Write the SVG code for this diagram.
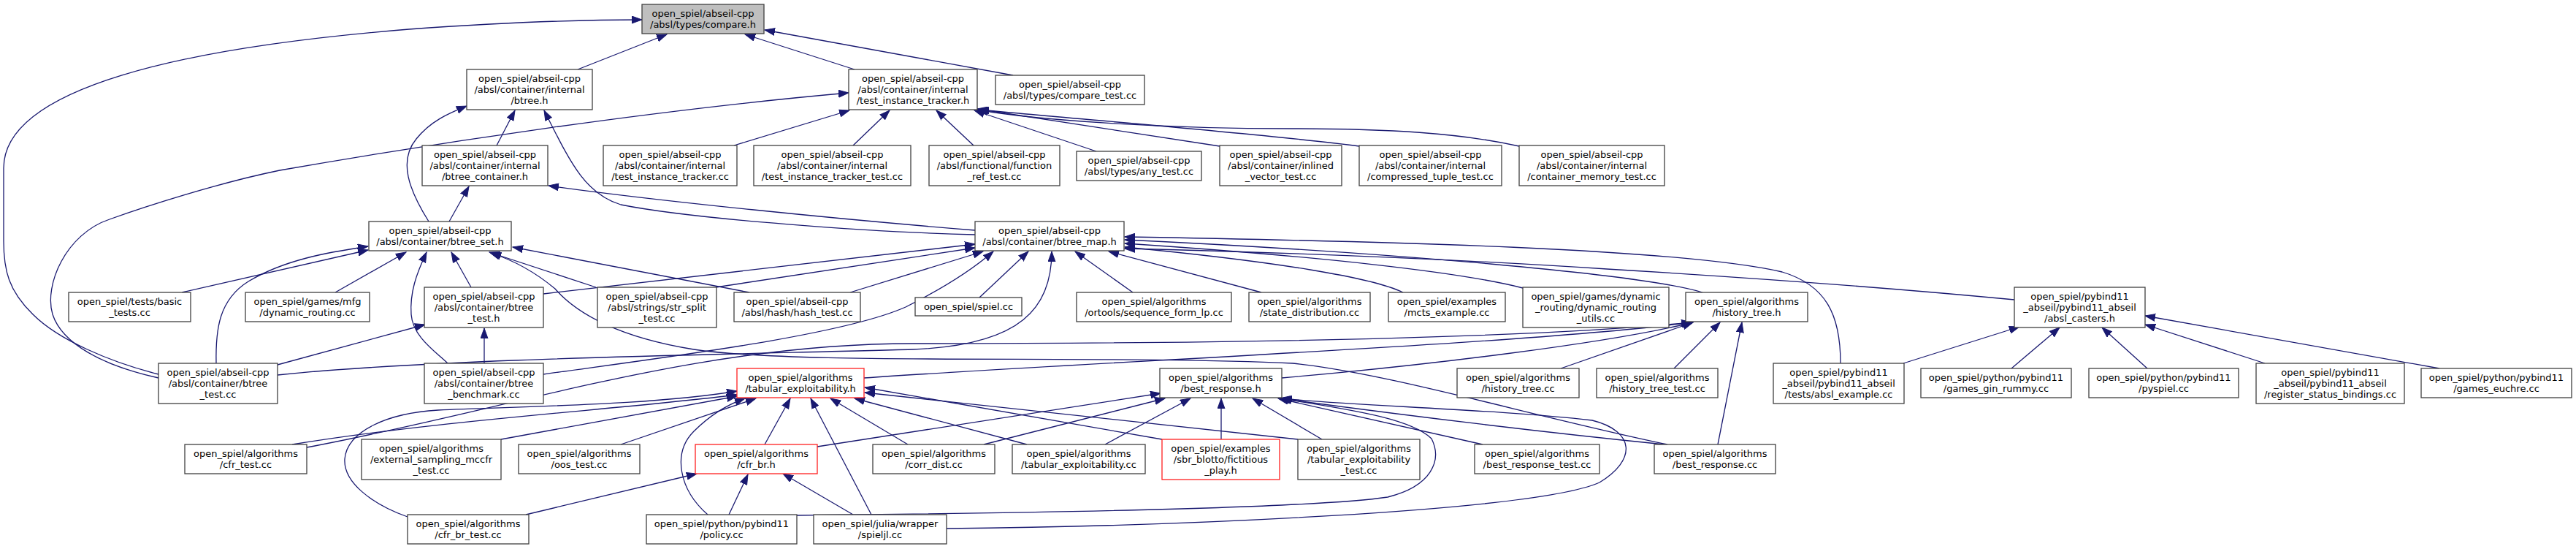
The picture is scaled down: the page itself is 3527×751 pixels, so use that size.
<svg xmlns="http://www.w3.org/2000/svg" width="3527" height="751" viewBox="0 0 3527 751">
<style>
.n rect{fill:#fff;stroke:#404040;stroke-width:1.3}
.root rect{fill:#bfbfbf}
.red rect{stroke:#ff2020}
text{font-family:"DejaVu Sans","Liberation Sans",sans-serif;font-size:13px;fill:#000;text-anchor:middle}
#edges path{fill:none;stroke:#191970;stroke-width:1.3;marker-end:url(#a)}
</style>
<defs>
<marker id="a" markerUnits="userSpaceOnUse" markerWidth="15" markerHeight="11" refX="14" refY="5.5" orient="auto" viewBox="0 0 15 11"><path d="M0,0.5 L14,5.5 L0,10.5 z" fill="#191970" stroke="#191970" stroke-width="1"/></marker>
</defs>
<rect width="3527" height="751" fill="#fff"/>
<g id="edges">
<path d="M791,95 L913,47"/>
<path d="M1170,95 L1020,47"/>
<path d="M1387,103 L1047,41"/>
<path d="M217,512 C150,495 80,465 45,430 C12,398 5,370 5,330 L5,230 C5,120 250,65 560,40 C700,30 800,27 879,27"/>
<path d="M680,199 L705,151"/>
<path d="M587,303 C560,260 545,220 570,190 C590,165 615,155 639,145"/>
<path d="M1335,321 C1200,318 950,300 850,280 C800,265 780,220 745,151"/>
<path d="M1005,199 L1163,151"/>
<path d="M1168,199 L1218,151"/>
<path d="M1333,199 L1282,151"/>
<path d="M1501,207 L1334,151"/>
<path d="M1670,200 L1338,149"/>
<path d="M1861,200 C1750,185 1500,165 1340,150"/>
<path d="M2080,200 C2000,182 1900,176 1770,176 C1600,176 1420,165 1338,150"/>
<path d="M217,517 C140,500 85,470 72,430 C60,390 90,320 150,300 C200,282 300,250 383,233 C600,195 900,150 1162,127"/>
<path d="M615,303 L642,255"/>
<path d="M1335,315 C1150,300 900,275 751,254"/>
<path d="M249,400 L504,342"/>
<path d="M296,497 C295,450 300,410 340,385 C390,355 450,345 504,337"/>
<path d="M459,400 L556,345"/>
<path d="M645,393 L618,345"/>
<path d="M613,497 C595,480 565,460 563,430 C561,400 570,375 584,345"/>
<path d="M816,393 L670,345"/>
<path d="M1026,400 L702,338"/>
<path d="M2283,608 C2100,570 1900,510 1770,497 C1500,485 1100,500 950,478 C850,462 790,430 760,395 C730,370 700,355 672,346"/>
<path d="M744,402 L1335,334"/>
<path d="M980,393 L1335,339"/>
<path d="M1164,400 L1346,344"/>
<path d="M380,513 C600,490 1000,485 1250,478 C1400,472 1440,420 1440,344"/>
<path d="M744,512 C900,490 1150,460 1240,420 C1290,395 1330,370 1360,344"/>
<path d="M1341,407 L1408,344"/>
<path d="M1551,400 L1472,344"/>
<path d="M1727,400 L1518,344"/>
<path d="M1921,400 C1880,380 1750,358 1540,338"/>
<path d="M2085,394 C2000,372 1800,350 1540,333"/>
<path d="M2331,400 C2250,375 1900,345 1540,328"/>
<path d="M2520,497 C2520,430 2500,390 2440,372 C2300,340 1900,330 1540,324"/>
<path d="M2758,410 C2600,395 2400,380 2200,368 C2000,355 1750,345 1540,340"/>
<path d="M380,499 L582,444"/>
<path d="M663,497 L663,449"/>
<path d="M2137,504 L2318,441"/>
<path d="M2292,504 L2355,441"/>
<path d="M2352,608 L2385,441"/>
<path d="M1755,517 C1950,500 2200,470 2318,441"/>
<path d="M1183,517 C1500,495 2100,470 2316,441"/>
<path d="M420,612 C700,560 950,470 1250,470 C1700,470 2100,462 2316,441"/>
<path d="M2606,497 L2765,447"/>
<path d="M2754,504 L2820,448"/>
<path d="M2940,504 L2878,448"/>
<path d="M3101,497 L2937,444"/>
<path d="M3340,504 L2937,432"/>
<path d="M400,608 C600,575 850,560 1009,540"/>
<path d="M558,707 C510,690 470,660 472,628 C475,590 530,565 600,561 C750,555 900,553 1009,535"/>
<path d="M686,601 L1009,542"/>
<path d="M850,608 L1035,545"/>
<path d="M1047,608 L1082,545"/>
<path d="M969,704 C930,670 920,620 950,590 C975,565 1000,552 1020,545"/>
<path d="M1193,704 L1110,545"/>
<path d="M1243,608 L1137,545"/>
<path d="M1406,608 L1170,545"/>
<path d="M1591,601 L1184,530"/>
<path d="M1777,601 L1184,537"/>
<path d="M1119,611 L1589,538"/>
<path d="M1347,608 L1595,545"/>
<path d="M1513,608 L1630,545"/>
<path d="M1672,601 L1672,545"/>
<path d="M1810,601 L1715,545"/>
<path d="M2030,608 L1750,545"/>
<path d="M2279,608 C2100,590 1900,565 1752,545"/>
<path d="M1090,705 C1400,702 1800,695 1900,680 C1960,665 1975,630 1960,600 C1930,570 1830,558 1754,545"/>
<path d="M1296,723 C1600,720 2100,700 2190,660 C2240,630 2240,590 2180,575 C2050,560 1850,555 1755,545"/>
<path d="M720,704 L954,648"/>
<path d="M998,704 L1024,649"/>
<path d="M1168,704 L1072,648"/>
</g>
<g id="n_compare_h" class="n root"><rect x="879" y="6" width="167" height="40"/><text x="962.5" y="23">open_spiel/abseil-cpp</text><text x="962.5" y="38">/absl/types/compare.h</text></g>
<g id="n_btree_h" class="n"><rect x="639" y="95" width="172" height="55"/><text x="725" y="112">open_spiel/abseil-cpp</text><text x="725" y="127">/absl/container/internal</text><text x="725" y="142">/btree.h</text></g>
<g id="n_tit_h" class="n"><rect x="1162" y="95" width="176" height="55"/><text x="1250" y="112">open_spiel/abseil-cpp</text><text x="1250" y="127">/absl/container/internal</text><text x="1250" y="142">/test_instance_tracker.h</text></g>
<g id="n_compare_test" class="n"><rect x="1363" y="103" width="204" height="40"/><text x="1465" y="120">open_spiel/abseil-cpp</text><text x="1465" y="135">/absl/types/compare_test.cc</text></g>
<g id="n_btree_container" class="n"><rect x="578" y="199" width="172" height="55"/><text x="664" y="216">open_spiel/abseil-cpp</text><text x="664" y="231">/absl/container/internal</text><text x="664" y="246">/btree_container.h</text></g>
<g id="n_tit_cc" class="n"><rect x="826" y="199" width="183" height="55"/><text x="917.5" y="216">open_spiel/abseil-cpp</text><text x="917.5" y="231">/absl/container/internal</text><text x="917.5" y="246">/test_instance_tracker.cc</text></g>
<g id="n_tit_test" class="n"><rect x="1032" y="199" width="215" height="55"/><text x="1139.5" y="216">open_spiel/abseil-cpp</text><text x="1139.5" y="231">/absl/container/internal</text><text x="1139.5" y="246">/test_instance_tracker_test.cc</text></g>
<g id="n_function_ref" class="n"><rect x="1272" y="199" width="179" height="55"/><text x="1361.5" y="216">open_spiel/abseil-cpp</text><text x="1361.5" y="231">/absl/functional/function</text><text x="1361.5" y="246">_ref_test.cc</text></g>
<g id="n_any_test" class="n"><rect x="1474" y="207" width="171" height="40"/><text x="1559.5" y="224">open_spiel/abseil-cpp</text><text x="1559.5" y="239">/absl/types/any_test.cc</text></g>
<g id="n_inlined" class="n"><rect x="1670" y="199" width="167" height="55"/><text x="1753.5" y="216">open_spiel/abseil-cpp</text><text x="1753.5" y="231">/absl/container/inlined</text><text x="1753.5" y="246">_vector_test.cc</text></g>
<g id="n_compressed" class="n"><rect x="1861" y="199" width="195" height="55"/><text x="1958.5" y="216">open_spiel/abseil-cpp</text><text x="1958.5" y="231">/absl/container/internal</text><text x="1958.5" y="246">/compressed_tuple_test.cc</text></g>
<g id="n_container_memory" class="n"><rect x="2080" y="199" width="199" height="55"/><text x="2179.5" y="216">open_spiel/abseil-cpp</text><text x="2179.5" y="231">/absl/container/internal</text><text x="2179.5" y="246">/container_memory_test.cc</text></g>
<g id="n_btree_set" class="n"><rect x="505" y="303" width="195" height="40"/><text x="602.5" y="320">open_spiel/abseil-cpp</text><text x="602.5" y="335">/absl/container/btree_set.h</text></g>
<g id="n_btree_map" class="n"><rect x="1335" y="303" width="204" height="40"/><text x="1437" y="320">open_spiel/abseil-cpp</text><text x="1437" y="335">/absl/container/btree_map.h</text></g>
<g id="n_basic_tests" class="n"><rect x="94" y="400" width="167" height="40"/><text x="177.5" y="417">open_spiel/tests/basic</text><text x="177.5" y="432">_tests.cc</text></g>
<g id="n_mfg_dr" class="n"><rect x="336" y="400" width="170" height="40"/><text x="421" y="417">open_spiel/games/mfg</text><text x="421" y="432">/dynamic_routing.cc</text></g>
<g id="n_btree_test_h" class="n"><rect x="581" y="393" width="163" height="55"/><text x="662.5" y="410">open_spiel/abseil-cpp</text><text x="662.5" y="425">/absl/container/btree</text><text x="662.5" y="440">_test.h</text></g>
<g id="n_str_split" class="n"><rect x="818" y="393" width="163" height="55"/><text x="899.5" y="410">open_spiel/abseil-cpp</text><text x="899.5" y="425">/absl/strings/str_split</text><text x="899.5" y="440">_test.cc</text></g>
<g id="n_hash_test" class="n"><rect x="1005" y="400" width="173" height="40"/><text x="1091.5" y="417">open_spiel/abseil-cpp</text><text x="1091.5" y="432">/absl/hash/hash_test.cc</text></g>
<g id="n_spiel_cc" class="n"><rect x="1253" y="407" width="146" height="25"/><text x="1326" y="424">open_spiel/spiel.cc</text></g>
<g id="n_seq_form" class="n"><rect x="1474" y="400" width="212" height="40"/><text x="1580" y="417">open_spiel/algorithms</text><text x="1580" y="432">/ortools/sequence_form_lp.cc</text></g>
<g id="n_state_dist" class="n"><rect x="1710" y="400" width="166" height="40"/><text x="1793" y="417">open_spiel/algorithms</text><text x="1793" y="432">/state_distribution.cc</text></g>
<g id="n_mcts" class="n"><rect x="1901" y="400" width="160" height="40"/><text x="1981" y="417">open_spiel/examples</text><text x="1981" y="432">/mcts_example.cc</text></g>
<g id="n_dr_utils" class="n"><rect x="2085" y="393" width="200" height="55"/><text x="2185" y="410">open_spiel/games/dynamic</text><text x="2185" y="425">_routing/dynamic_routing</text><text x="2185" y="440">_utils.cc</text></g>
<g id="n_history_tree_h" class="n"><rect x="2308" y="400" width="167" height="40"/><text x="2391.5" y="417">open_spiel/algorithms</text><text x="2391.5" y="432">/history_tree.h</text></g>
<g id="n_absl_casters" class="n"><rect x="2758" y="393" width="179" height="55"/><text x="2847.5" y="410">open_spiel/pybind11</text><text x="2847.5" y="425">_abseil/pybind11_abseil</text><text x="2847.5" y="440">/absl_casters.h</text></g>
<g id="n_btree_test_cc" class="n"><rect x="217" y="497" width="163" height="55"/><text x="298.5" y="514">open_spiel/abseil-cpp</text><text x="298.5" y="529">/absl/container/btree</text><text x="298.5" y="544">_test.cc</text></g>
<g id="n_btree_bench" class="n"><rect x="581" y="497" width="163" height="55"/><text x="662.5" y="514">open_spiel/abseil-cpp</text><text x="662.5" y="529">/absl/container/btree</text><text x="662.5" y="544">_benchmark.cc</text></g>
<g id="n_tab_expl_h" class="n red"><rect x="1009" y="504" width="174" height="40"/><text x="1096" y="521">open_spiel/algorithms</text><text x="1096" y="536">/tabular_exploitability.h</text></g>
<g id="n_best_response_h" class="n"><rect x="1588" y="504" width="167" height="40"/><text x="1671.5" y="521">open_spiel/algorithms</text><text x="1671.5" y="536">/best_response.h</text></g>
<g id="n_history_tree_cc" class="n"><rect x="1995" y="504" width="167" height="40"/><text x="2078.5" y="521">open_spiel/algorithms</text><text x="2078.5" y="536">/history_tree.cc</text></g>
<g id="n_history_tree_test" class="n"><rect x="2186" y="504" width="166" height="40"/><text x="2269" y="521">open_spiel/algorithms</text><text x="2269" y="536">/history_tree_test.cc</text></g>
<g id="n_absl_example" class="n"><rect x="2428" y="497" width="179" height="55"/><text x="2517.5" y="514">open_spiel/pybind11</text><text x="2517.5" y="529">_abseil/pybind11_abseil</text><text x="2517.5" y="544">/tests/absl_example.cc</text></g>
<g id="n_gin_rummy" class="n"><rect x="2630" y="504" width="206" height="40"/><text x="2733" y="521">open_spiel/python/pybind11</text><text x="2733" y="536">/games_gin_rummy.cc</text></g>
<g id="n_pyspiel" class="n"><rect x="2860" y="504" width="205" height="40"/><text x="2962.5" y="521">open_spiel/python/pybind11</text><text x="2962.5" y="536">/pyspiel.cc</text></g>
<g id="n_register_status" class="n"><rect x="3089" y="497" width="203" height="55"/><text x="3190.5" y="514">open_spiel/pybind11</text><text x="3190.5" y="529">_abseil/pybind11_abseil</text><text x="3190.5" y="544">/register_status_bindings.cc</text></g>
<g id="n_euchre" class="n"><rect x="3315" y="504" width="206" height="40"/><text x="3418" y="521">open_spiel/python/pybind11</text><text x="3418" y="536">/games_euchre.cc</text></g>
<g id="n_cfr_test" class="n"><rect x="253" y="608" width="167" height="40"/><text x="336.5" y="625">open_spiel/algorithms</text><text x="336.5" y="640">/cfr_test.cc</text></g>
<g id="n_ext_sampling" class="n"><rect x="495" y="601" width="191" height="55"/><text x="590.5" y="618">open_spiel/algorithms</text><text x="590.5" y="633">/external_sampling_mccfr</text><text x="590.5" y="648">_test.cc</text></g>
<g id="n_oos_test" class="n"><rect x="710" y="608" width="166" height="40"/><text x="793" y="625">open_spiel/algorithms</text><text x="793" y="640">/oos_test.cc</text></g>
<g id="n_cfr_br_h" class="n red"><rect x="952" y="608" width="167" height="40"/><text x="1035.5" y="625">open_spiel/algorithms</text><text x="1035.5" y="640">/cfr_br.h</text></g>
<g id="n_corr_dist" class="n"><rect x="1195" y="608" width="167" height="40"/><text x="1278.5" y="625">open_spiel/algorithms</text><text x="1278.5" y="640">/corr_dist.cc</text></g>
<g id="n_tab_expl_cc" class="n"><rect x="1386" y="608" width="182" height="40"/><text x="1477" y="625">open_spiel/algorithms</text><text x="1477" y="640">/tabular_exploitability.cc</text></g>
<g id="n_fict_play" class="n red"><rect x="1591" y="601" width="161" height="55"/><text x="1671.5" y="618">open_spiel/examples</text><text x="1671.5" y="633">/sbr_blotto/fictitious</text><text x="1671.5" y="648">_play.h</text></g>
<g id="n_tab_expl_test" class="n"><rect x="1777" y="601" width="167" height="55"/><text x="1860.5" y="618">open_spiel/algorithms</text><text x="1860.5" y="633">/tabular_exploitability</text><text x="1860.5" y="648">_test.cc</text></g>
<g id="n_br_test" class="n"><rect x="2019" y="608" width="171" height="40"/><text x="2104.5" y="625">open_spiel/algorithms</text><text x="2104.5" y="640">/best_response_test.cc</text></g>
<g id="n_best_response_cc" class="n"><rect x="2265" y="608" width="166" height="40"/><text x="2348" y="625">open_spiel/algorithms</text><text x="2348" y="640">/best_response.cc</text></g>
<g id="n_cfr_br_test" class="n"><rect x="558" y="704" width="166" height="40"/><text x="641" y="721">open_spiel/algorithms</text><text x="641" y="736">/cfr_br_test.cc</text></g>
<g id="n_policy" class="n"><rect x="885" y="704" width="206" height="40"/><text x="988" y="721">open_spiel/python/pybind11</text><text x="988" y="736">/policy.cc</text></g>
<g id="n_spieljl" class="n"><rect x="1114" y="704" width="182" height="40"/><text x="1205" y="721">open_spiel/julia/wrapper</text><text x="1205" y="736">/spieljl.cc</text></g>
</svg>
